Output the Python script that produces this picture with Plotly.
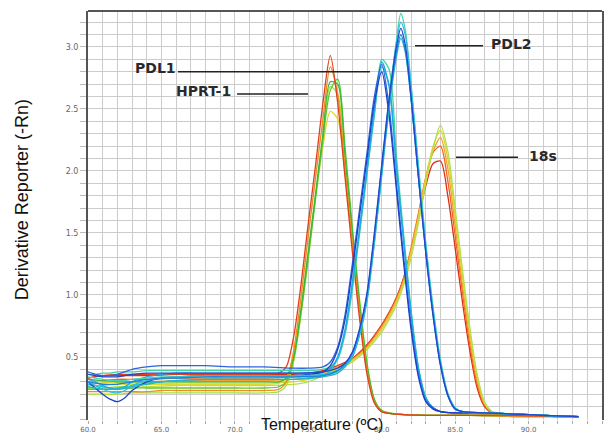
import plotly.graph_objects as go

# ---------------- data ----------------
# Left group (PDL1 / HPRT-1)
L_T = [60, 61, 62, 63, 64, 65, 66, 68, 70, 72, 73, 73.5, 74, 74.5, 75, 75.5, 76, 76.5,
       77, 77.5, 78, 78.5, 79, 79.5, 80, 81, 83, 86, 89, 92, 93.4]
L_red = [0.33, 0.35, 0.36, 0.36, 0.36, 0.36, 0.36, 0.36, 0.36, 0.36, 0.37, 0.42, 0.66, 1.08,
         1.58, 2.05, 2.55, 2.93, 2.55, 1.95, 1.35, 0.80, 0.36, 0.13, 0.06, 0.04, 0.03, 0.03,
         0.03, 0.02, 0.02]
L_orange = [0.22, 0.22, 0.22, 0.22, 0.22, 0.23, 0.23, 0.23, 0.23, 0.23, 0.24, 0.30, 0.55, 0.98,
            1.48, 1.95, 2.42, 2.84, 2.62, 2.02, 1.42, 0.86, 0.39, 0.14, 0.06, 0.04, 0.03, 0.03,
            0.02, 0.02, 0.02]
L_yellow = [0.30, 0.30, 0.29, 0.28, 0.28, 0.28, 0.28, 0.28, 0.28, 0.28, 0.29, 0.33, 0.52, 0.90,
            1.35, 1.80, 2.20, 2.48, 2.42, 1.98, 1.42, 0.88, 0.42, 0.15, 0.06, 0.04, 0.03, 0.03,
            0.03, 0.02, 0.02]
L_green = [0.24, 0.24, 0.24, 0.25, 0.25, 0.25, 0.25, 0.25, 0.25, 0.25, 0.26, 0.30, 0.48, 0.85,
           1.30, 1.78, 2.25, 2.65, 2.74, 2.20, 1.55, 0.95, 0.45, 0.16, 0.07, 0.04, 0.03, 0.03,
           0.03, 0.02, 0.02]
L_lime = [0.20, 0.20, 0.20, 0.21, 0.21, 0.21, 0.21, 0.21, 0.21, 0.21, 0.22, 0.27, 0.46, 0.84,
          1.30, 1.80, 2.28, 2.68, 2.62, 2.10, 1.50, 0.92, 0.43, 0.15, 0.06, 0.04, 0.03, 0.03,
          0.03, 0.02, 0.02]
L_green2 = [0.32, 0.31, 0.30, 0.30, 0.30, 0.30, 0.30, 0.30, 0.30, 0.30, 0.30, 0.33, 0.50, 0.88,
            1.35, 1.82, 2.30, 2.72, 2.70, 2.12, 1.50, 0.90, 0.42, 0.15, 0.06, 0.04, 0.03, 0.03,
            0.02, 0.02, 0.02]

# Blue group A (first PDL2 peak)
A_T = [60, 60.5, 61, 61.5, 62, 62.5, 63, 64, 65, 66, 68, 70, 72, 74, 75, 76, 76.5, 77, 77.5,
       78, 78.5, 79, 79.5, 80, 80.5, 81, 81.5, 82, 82.5, 83, 83.5, 84, 85, 87, 89, 91, 93.4]
A_blue = [0.30, 0.25, 0.20, 0.16, 0.14, 0.17, 0.23, 0.30, 0.33, 0.34, 0.35, 0.35, 0.35, 0.35,
          0.36, 0.38, 0.43, 0.56, 0.80, 1.20, 1.65, 2.10, 2.55, 2.80, 2.45, 1.85, 1.25, 0.72,
          0.34, 0.14, 0.08, 0.06, 0.05, 0.05, 0.04, 0.03, 0.02]
A_blue2 = [0.38, 0.36, 0.35, 0.35, 0.36, 0.38, 0.40, 0.42, 0.43, 0.43, 0.43, 0.42, 0.42, 0.41,
           0.41, 0.42, 0.46, 0.58, 0.84, 1.25, 1.70, 2.15, 2.60, 2.86, 2.52, 1.90, 1.30, 0.76,
           0.36, 0.15, 0.09, 0.06, 0.05, 0.05, 0.04, 0.03, 0.02]
A_cyan = [0.32, 0.30, 0.27, 0.25, 0.24, 0.26, 0.30, 0.34, 0.36, 0.37, 0.37, 0.37, 0.37, 0.37,
          0.37, 0.38, 0.41, 0.50, 0.72, 1.10, 1.55, 2.02, 2.50, 2.88, 2.68, 2.02, 1.42, 0.84,
          0.40, 0.17, 0.09, 0.06, 0.05, 0.05, 0.04, 0.03, 0.02]
A_teal = [0.28, 0.27, 0.26, 0.25, 0.25, 0.26, 0.27, 0.29, 0.30, 0.31, 0.32, 0.32, 0.32, 0.32,
          0.33, 0.35, 0.39, 0.49, 0.70, 1.08, 1.52, 2.00, 2.46, 2.84, 2.70, 2.05, 1.45, 0.86,
          0.41, 0.17, 0.09, 0.06, 0.05, 0.05, 0.04, 0.03, 0.02]
A_mint = [0.36, 0.36, 0.37, 0.37, 0.38, 0.38, 0.38, 0.39, 0.39, 0.39, 0.39, 0.39, 0.39, 0.39,
          0.39, 0.40, 0.42, 0.48, 0.68, 1.04, 1.50, 1.98, 2.45, 2.90, 2.82, 2.12, 1.48, 0.88,
          0.42, 0.18, 0.09, 0.06, 0.05, 0.05, 0.04, 0.03, 0.02]

# Blue group B (second PDL2 peak)
B_T = [60, 60.5, 61, 61.5, 62, 62.5, 63, 64, 65, 66, 68, 70, 72, 74, 76, 77, 77.5, 78, 78.5,
       79, 79.5, 80, 80.5, 81, 81.3, 81.6, 82, 82.5, 83, 83.5, 84, 84.5, 85, 85.5, 87, 89, 91,
       93.4]
B_mint = [0.34, 0.33, 0.32, 0.31, 0.31, 0.31, 0.32, 0.33, 0.34, 0.34, 0.34, 0.34, 0.34, 0.34,
          0.35, 0.38, 0.42, 0.50, 0.68, 0.95, 1.42, 1.98, 2.55, 3.05, 3.27, 3.14, 2.70, 2.05,
          1.42, 0.90, 0.48, 0.21, 0.09, 0.06, 0.05, 0.04, 0.03, 0.02]
B_cyan = [0.30, 0.27, 0.24, 0.22, 0.21, 0.23, 0.27, 0.31, 0.33, 0.34, 0.35, 0.35, 0.35, 0.35,
          0.36, 0.39, 0.43, 0.52, 0.70, 0.98, 1.46, 2.02, 2.58, 3.03, 3.20, 3.10, 2.68, 2.02,
          1.40, 0.88, 0.46, 0.20, 0.09, 0.06, 0.05, 0.04, 0.03, 0.02]
B_blue = [0.36, 0.35, 0.34, 0.34, 0.34, 0.35, 0.36, 0.37, 0.37, 0.37, 0.37, 0.37, 0.37, 0.37,
          0.38, 0.41, 0.45, 0.54, 0.73, 1.02, 1.50, 2.05, 2.58, 3.00, 3.15, 3.02, 2.60, 1.95,
          1.34, 0.83, 0.43, 0.19, 0.08, 0.06, 0.05, 0.04, 0.03, 0.02]
B_azure = [0.30, 0.29, 0.28, 0.28, 0.28, 0.29, 0.30, 0.32, 0.33, 0.33, 0.34, 0.34, 0.34, 0.34,
           0.35, 0.39, 0.44, 0.53, 0.72, 1.00, 1.48, 2.02, 2.55, 2.96, 3.10, 2.98, 2.58, 1.95,
           1.35, 0.84, 0.44, 0.19, 0.08, 0.06, 0.05, 0.04, 0.03, 0.02]
B_teal = [0.26, 0.25, 0.24, 0.24, 0.24, 0.25, 0.26, 0.28, 0.30, 0.31, 0.32, 0.32, 0.32, 0.32,
          0.34, 0.37, 0.42, 0.50, 0.68, 0.96, 1.42, 1.96, 2.50, 2.92, 3.07, 2.96, 2.58, 1.96,
          1.36, 0.85, 0.45, 0.20, 0.09, 0.06, 0.05, 0.04, 0.03, 0.02]

# 18s group
S_T = [60, 61, 62, 63, 64, 66, 68, 70, 72, 74, 75, 76, 77, 78, 79, 80, 80.5, 81, 81.5, 82,
       82.5, 83, 83.5, 84, 84.5, 85, 85.5, 86, 86.5, 87, 87.5, 88, 89, 91, 93.4]
S_red = [0.33, 0.35, 0.35, 0.35, 0.35, 0.36, 0.36, 0.36, 0.36, 0.36, 0.37, 0.39, 0.43, 0.49,
         0.60, 0.76, 0.86, 0.98, 1.14, 1.36, 1.62, 1.88, 2.06, 2.08, 1.80, 1.38, 0.94, 0.55,
         0.25, 0.10, 0.05, 0.04, 0.04, 0.03, 0.02]
S_orange = [0.30, 0.31, 0.32, 0.32, 0.32, 0.33, 0.33, 0.33, 0.33, 0.34, 0.35, 0.38, 0.42, 0.48,
            0.59, 0.75, 0.85, 0.97, 1.14, 1.38, 1.66, 1.95, 2.15, 2.20, 1.92, 1.48, 1.02, 0.60,
            0.28, 0.11, 0.05, 0.04, 0.04, 0.03, 0.02]
S_amber = [0.28, 0.29, 0.30, 0.30, 0.30, 0.31, 0.31, 0.31, 0.31, 0.32, 0.33, 0.37, 0.42, 0.48,
           0.58, 0.74, 0.84, 0.96, 1.12, 1.36, 1.64, 1.94, 2.16, 2.27, 2.02, 1.56, 1.08, 0.65,
           0.31, 0.12, 0.06, 0.04, 0.04, 0.03, 0.02]
S_yellow = [0.27, 0.27, 0.28, 0.28, 0.28, 0.29, 0.29, 0.29, 0.29, 0.30, 0.32, 0.36, 0.41, 0.47,
            0.57, 0.72, 0.82, 0.94, 1.10, 1.34, 1.62, 1.94, 2.20, 2.33, 2.10, 1.64, 1.15, 0.70,
            0.34, 0.13, 0.06, 0.04, 0.04, 0.03, 0.02]
S_lime = [0.25, 0.25, 0.26, 0.26, 0.26, 0.27, 0.27, 0.27, 0.27, 0.28, 0.30, 0.35, 0.40, 0.46,
          0.56, 0.70, 0.80, 0.92, 1.08, 1.30, 1.58, 1.90, 2.18, 2.37, 2.16, 1.70, 1.20, 0.74,
          0.36, 0.14, 0.06, 0.05, 0.04, 0.03, 0.02]

# axis ticks
X_TICKS = list(range(60, 96))
X_LABELS = [f"{v:.1f}" if v % 5 == 0 else "" for v in X_TICKS]
Y_TICKS = [round(0.1 * i, 1) for i in range(0, 33)]
Y_LABELS = [f"{v:.1f}" if (round(v * 10) % 5 == 0 and v > 0) else "" for v in Y_TICKS]

# ---------------- figure ----------------
series = [
    (S_T, S_red, "#e02c14"), (S_T, S_orange, "#f0641e"), (S_T, S_amber, "#f4a030"),
    (S_T, S_yellow, "#dcd234"), (S_T, S_lime, "#b4e04a"),
    (L_T, L_yellow, "#e0d82c"), (L_T, L_lime, "#a8e03a"), (L_T, L_green, "#5cc832"),
    (L_T, L_green2, "#38b83a"), (L_T, L_orange, "#f08a22"), (L_T, L_red, "#e0401a"),
    (A_T, A_mint, "#44d2a4"), (A_T, A_teal, "#22c4cc"), (A_T, A_cyan, "#1ea8e6"),
    (A_T, A_blue2, "#2d62e0"), (A_T, A_blue, "#1f3fc8"),
    (B_T, B_mint, "#48d6b0"), (B_T, B_teal, "#26b4c8"), (B_T, B_cyan, "#2cbde4"),
    (B_T, B_azure, "#1c82dc"), (B_T, B_blue, "#2446cc"),
]

fig = go.Figure()
for xs, ys, col in series:
    fig.add_trace(go.Scatter(x=xs, y=ys, mode="lines", showlegend=False, hoverinfo="skip",
                             line=dict(color=col, width=1.3, shape="spline", smoothing=0.8)))

x_tick_font = dict(family="DejaVu Sans", size=7, color="#666666")
y_tick_font = dict(family="DejaVu Sans", size=8, color="#666666")
fig.update_layout(
    width=606, height=433,
    margin=dict(l=88, r=4, t=11, b=13, autoexpand=False),
    paper_bgcolor="white", plot_bgcolor="white",
    xaxis=dict(range=[60, 95], tickmode="array", tickvals=X_TICKS, ticktext=X_LABELS,
               ticks="outside", ticklen=3, tickcolor="#aaaaaa", showgrid=True,
               gridcolor="#cccccc", gridwidth=1, zeroline=False, showline=False,
               tickfont=x_tick_font, ticklabelstandoff=0, automargin=False),
    yaxis=dict(range=[-0.008, 3.29], tickmode="array", tickvals=Y_TICKS, ticktext=Y_LABELS,
               ticks="outside", ticklen=6, tickcolor="#bbbbbb", showgrid=True,
               gridcolor="#cccccc", gridwidth=1, zeroline=False, showline=True,
               linecolor="#555555", linewidth=2, mirror=True, tickfont=y_tick_font,
               automargin=False),
)

# top frame line
fig.add_shape(type="line", xref="paper", yref="paper", x0=0, x1=1, y0=1, y1=1,
              line=dict(color="#555555", width=2))

# label leader lines
leaders = [(66.13, 79.2, 2.80), (70.15, 74.98, 2.62), (82.27, 86.9, 3.01), (85.06, 89.28, 2.11)]
for x0, x1, yv in leaders:
    fig.add_shape(type="line", xref="x", yref="y", x0=x0, x1=x1, y0=yv, y1=yv,
                  line=dict(color="#222222", width=1.5))

lab_font = dict(family="DejaVu Sans", size=14, color="#2a2a2a")
labels = [("PDL1", 66.1, 2.83, "right"), ("HPRT-1", 69.85, 2.645, "right"),
          ("PDL2", 87.3, 3.02, "left"), ("18s", 89.9, 2.12, "left")]
for txt, xv, yv, anc in labels:
    fig.add_annotation(x=xv, y=yv, xref="x", yref="y", text=f"<b>{txt}</b>", showarrow=False,
                       xanchor=anc, yanchor="middle", font=lab_font)

# axis titles
fig.add_annotation(x=-0.128, y=0.538, xref="paper", yref="paper", text="Derivative Reporter (-Rn)",
                   textangle=-90, showarrow=False, xanchor="center", yanchor="middle",
                   font=dict(family="Liberation Sans", size=18, color="#111111"))
fig.add_annotation(x=0.455, y=-0.012, xref="paper", yref="paper", text="Temperature (ºC)",
                   showarrow=False, xanchor="center", yanchor="middle",
                   font=dict(family="Liberation Sans", size=16, color="#111111"))

fig.write_html("out.html")
